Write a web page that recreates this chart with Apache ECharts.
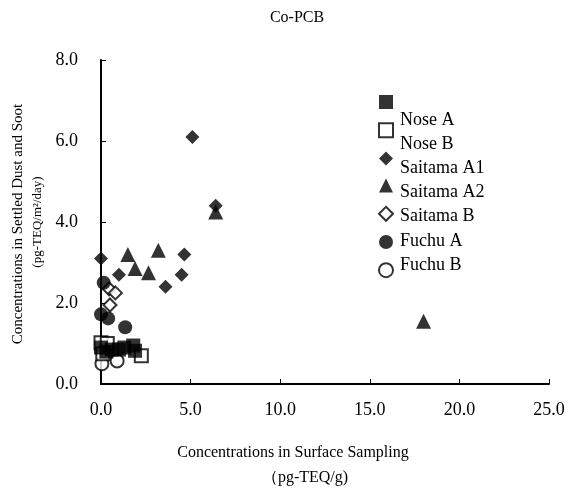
<!DOCTYPE html>
<html>
<head>
<meta charset="utf-8">
<script src="https://cdn.jsdelivr.net/npm/echarts@6/dist/echarts.min.js"></script>
<style>
  html, body { margin: 0; padding: 0; background: #fff; }
  #chart { width: 568px; height: 495px; }
</style>
</head>
<body>
<div id="chart"></div>
<script>
const seriesNames = ['Nose A', 'Nose B', 'Saitama A1', 'Saitama A2', 'Saitama B', 'Fuchu A', 'Fuchu B'];

// [surface sampling, settled dust and soot]
const noseA = [[0, 0.9], [0.3, 0.8], [0.6, 0.85], [1.0, 0.85], [1.3, 0.9], [1.8, 0.95], [1.9, 0.82]];
const noseB = [[0, 1.02], [0.35, 1.0], [0.1, 0.75], [2.25, 0.7]];
const saitamaA1 = [[0, 3.1], [1.0, 2.7], [4.5, 2.7], [4.65, 3.2], [3.6, 2.4], [5.1, 6.1], [6.4, 4.4]];
const saitamaA2 = [[1.5, 3.2], [3.2, 3.3], [1.9, 2.85], [2.65, 2.75], [6.4, 4.25], [18.0, 1.55]];
const saitamaB = [[0.45, 2.35], [0.8, 2.25], [0.5, 1.95]];
const fuchuA = [[0.15, 2.5], [0, 1.72], [0.4, 1.62], [1.35, 1.4]];
const fuchuB = [[0.05, 0.5], [0.9, 0.57]];

const FONT = '"Liberation Serif", "DejaVu Serif", serif';

const chart = echarts.init(document.getElementById('chart'), null, { renderer: 'canvas' });

const filled = { color: '#000', borderColor: '#000', borderWidth: 0 };
const hollow = { color: '#fff', borderColor: '#000', borderWidth: 2 };

function scatter(name, data, symbol, size, style, z) {
  return {
    name, type: 'scatter', data, symbol, symbolSize: size,
    itemStyle: style, z: z || 2
  };
}

function text(x, y, str, size, extra) {
  return Object.assign({
    type: 'text', x, y,
    style: { text: str, font: size + 'px ' + FONT, fill: '#000', textAlign: 'center', textVerticalAlign: 'middle' }
  }, extra || {});
}

// legend labels sit a little off their markers in the original
const legendLabelY = [120, 144, 168, 192, 216, 241, 265];
const legendLabels = seriesNames.map((n, i) => ({
  type: 'text', x: 400, y: legendLabelY[i],
  style: { text: n, font: '18px ' + FONT, fill: '#000', textAlign: 'left', textVerticalAlign: 'middle' }
}));

const option = {
  backgroundColor: '#fff',
  animation: false,
  grid: { left: 101, right: 19, top: 60, bottom: 111 },
  legend: {
    orient: 'vertical',
    left: 378,
    top: 95,
    padding: 0,
    itemWidth: 14,
    itemHeight: 14,
    itemGap: 13.2,
    formatter: () => '',
    textStyle: { fontSize: 1 },
    data: seriesNames
  },
  xAxis: {
    type: 'value',
    min: 0, max: 25, interval: 5,
    axisLine: { show: true, lineStyle: { color: '#000', width: 2 } },
    axisTick: { show: true, inside: true, length: 5, lineStyle: { color: '#000' } },
    splitLine: { show: false },
    axisLabel: {
      fontFamily: FONT, fontSize: 18, color: '#000', margin: 17,
      formatter: v => v.toFixed(1)
    }
  },
  yAxis: {
    type: 'value',
    min: 0, max: 8, interval: 2,
    axisLine: { show: true, lineStyle: { color: '#000', width: 2 } },
    axisTick: { show: true, inside: true, length: 5, lineStyle: { color: '#000' } },
    splitLine: { show: false },
    axisLabel: {
      fontFamily: FONT, fontSize: 18, color: '#000', margin: 23,
      formatter: v => v.toFixed(1)
    }
  },
  graphic: [
    text(297, 18, 'Co-PCB', 16),
    text(293, 453, 'Concentrations in Surface Sampling', 16),
    text(305, 478, '（pg-TEQ/g)', 16),
    text(18, 224, 'Concentrations in Settled Dust and Soot', 15, { rotation: Math.PI / 2 }),
    text(38, 222, '(pg-TEQ/m²/day)', 13, { rotation: Math.PI / 2 })
  ].concat(legendLabels),
  series: [
    scatter('Nose A', noseA, 'rect', 14, filled, 4),
    scatter('Nose B', noseB, 'rect', 13, hollow, 3),
    scatter('Saitama A1', saitamaA1, 'diamond', 14, filled),
    scatter('Saitama A2', saitamaA2, 'triangle', 15, filled),
    scatter('Saitama B', saitamaB, 'diamond', 13, hollow),
    scatter('Fuchu A', fuchuA, 'circle', 14, filled),
    scatter('Fuchu B', fuchuB, 'circle', 13, hollow)
  ]
};

chart.setOption(option);
</script>
</body>
</html>
